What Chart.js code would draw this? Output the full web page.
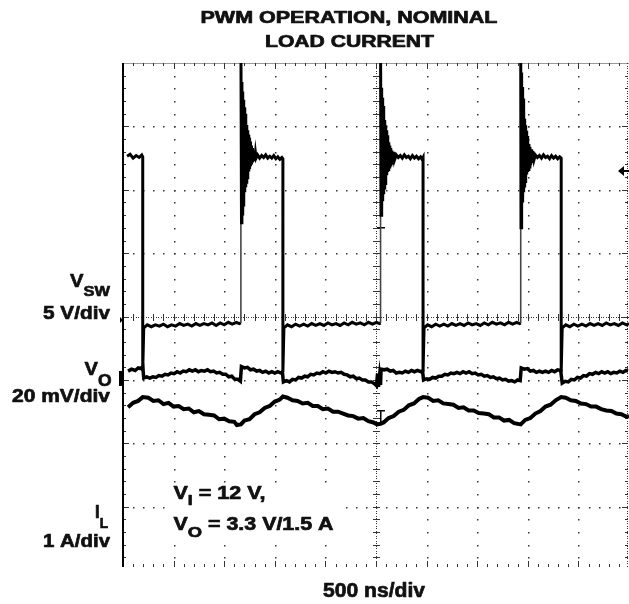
<!DOCTYPE html>
<html>
<head>
<meta charset="utf-8">
<script src="https://cdn.jsdelivr.net/npm/chart.js@4/dist/chart.umd.min.js"></script>
<style>
  html, body { margin: 0; padding: 0; background: #fff; }
  canvas { display: block; }
</style>
</head>
<body>
<canvas id="scope" width="629" height="604"></canvas>
<script>
// Scope screen: 10 x 8 divisions, time in div (500 ns/div), level in div from bottom

// V_SW switch node (5 V/div)
const vswTrace = [
  [0.08,6.53],[0.14,6.56],[0.20,6.50],[0.26,6.54],[0.32,6.51],[0.37,6.55],[0.39,6.52],
  [0.39,3.15],[0.41,3.82],[0.48,3.87],[0.56,3.84],[0.64,3.87],[0.72,3.85],[0.80,3.88],[0.88,3.84],[0.96,3.87],
  [1.04,3.85],[1.12,3.89],[1.20,3.86],[1.28,3.88],[1.36,3.85],[1.44,3.89],[1.52,3.86],[1.60,3.89],[1.68,3.87],
  [1.76,3.90],[1.84,3.86],[1.92,3.90],[2.00,3.87],[2.08,3.91],[2.16,3.88],[2.24,3.91],[2.30,3.89],[2.33,3.90],
  [2.33,8.40],
  [2.342,5.48],[2.350,7.70],[2.358,5.62],[2.366,7.55],[2.374,5.76],[2.382,7.42],[2.390,5.88],[2.398,7.30],
  [2.406,5.96],[2.414,7.20],[2.422,6.04],[2.430,7.10],[2.438,6.12],[2.446,7.02],[2.454,6.19],[2.462,6.94],
  [2.470,6.25],[2.478,6.87],[2.486,6.29],[2.494,6.82],[2.502,6.33],[2.510,6.76],[2.520,6.37],[2.530,6.70],
  [2.540,6.40],[2.550,6.66],[2.560,6.43],[2.570,6.62],[2.582,6.45],[2.594,6.60],[2.606,6.48],[2.618,6.58],[2.630,6.50],
  [2.66,6.55],[2.70,6.50],[2.74,6.54],[2.78,6.51],[2.82,6.55],[2.86,6.50],[2.90,6.53],[2.94,6.50],[2.98,6.54],
  [3.02,6.49],[3.06,6.52],[3.10,6.48],[3.14,6.51],[3.16,6.49],
  [3.16,3.13],[3.18,3.82],[3.25,3.87],[3.33,3.84],[3.41,3.88],[3.49,3.85],[3.57,3.88],[3.65,3.85],[3.73,3.89],
  [3.81,3.86],[3.89,3.89],[3.97,3.86],[4.05,3.90],[4.13,3.87],[4.21,3.89],[4.29,3.86],[4.37,3.90],[4.45,3.87],
  [4.53,3.91],[4.61,3.88],[4.69,3.90],[4.77,3.87],[4.85,3.91],[4.93,3.88],[5.01,3.91],[5.07,3.89],[5.09,3.90],
  [5.09,8.40],
  [5.100,5.60],[5.108,7.61],[5.116,5.70],[5.124,7.45],[5.132,5.82],[5.140,7.32],[5.148,5.93],[5.156,7.20],
  [5.164,6.03],[5.172,7.10],[5.180,6.10],[5.188,7.02],[5.196,6.17],[5.204,6.94],[5.212,6.23],[5.220,6.86],
  [5.228,6.28],[5.236,6.80],[5.244,6.32],[5.252,6.75],[5.262,6.36],[5.272,6.70],[5.282,6.39],[5.292,6.66],
  [5.302,6.42],[5.314,6.62],[5.326,6.44],[5.338,6.60],[5.350,6.47],[5.362,6.58],[5.374,6.49],
  [5.40,6.55],[5.44,6.51],[5.48,6.54],[5.52,6.50],[5.56,6.55],[5.60,6.51],[5.64,6.53],[5.68,6.49],[5.72,6.54],
  [5.76,6.50],[5.80,6.53],[5.84,6.49],[5.88,6.52],[5.91,6.48],[5.93,6.51],
  [5.93,3.13],[5.95,3.82],[6.02,3.87],[6.10,3.84],[6.18,3.88],[6.26,3.85],[6.34,3.88],[6.42,3.85],[6.50,3.89],
  [6.58,3.86],[6.66,3.89],[6.74,3.86],[6.82,3.90],[6.90,3.87],[6.98,3.89],[7.06,3.86],[7.14,3.90],[7.22,3.87],
  [7.30,3.91],[7.38,3.88],[7.46,3.90],[7.54,3.87],[7.62,3.91],[7.70,3.88],[7.78,3.91],[7.84,3.89],[7.86,3.90],
  [7.86,8.40],
  [7.866,5.40],[7.874,7.85],[7.882,5.62],[7.890,7.62],[7.898,5.80],[7.906,7.44],[7.914,5.96],[7.922,7.28],
  [7.930,6.06],[7.938,7.12],[7.946,6.13],[7.954,7.02],[7.962,6.19],[7.970,6.93],[7.978,6.24],[7.986,6.85],
  [7.994,6.28],[8.002,6.78],[8.012,6.32],[8.022,6.72],[8.032,6.36],[8.042,6.68],[8.054,6.39],[8.066,6.64],
  [8.078,6.42],[8.090,6.61],[8.102,6.45],[8.114,6.59],[8.126,6.48],
  [8.15,6.55],[8.19,6.51],[8.23,6.54],[8.27,6.50],[8.31,6.55],[8.35,6.51],[8.39,6.53],[8.43,6.49],[8.47,6.54],
  [8.51,6.50],[8.55,6.53],[8.59,6.49],[8.63,6.52],[8.66,6.50],
  [8.66,3.13],[8.68,3.82],[8.75,3.87],[8.83,3.84],[8.91,3.88],[8.99,3.85],[9.07,3.88],[9.15,3.85],[9.23,3.89],
  [9.31,3.86],[9.39,3.89],[9.47,3.86],[9.55,3.90],[9.63,3.87],[9.71,3.89],[9.79,3.86],[9.87,3.90],[9.95,3.87],[10.0,3.89]
];

// V_O output ripple (20 mV/div)
const voTrace = [
  [0.10,3.14],[0.17,3.17],[0.24,3.15],[0.30,3.19],[0.35,3.18],[0.39,3.21],
  [0.41,3.03],[0.47,3.05],[0.53,3.03],[0.59,3.05],[0.65,3.04],[0.71,3.07],[0.77,3.06],[0.83,3.09],[0.89,3.08],
  [0.95,3.11],[1.01,3.10],[1.07,3.13],[1.13,3.11],[1.19,3.14],[1.25,3.13],[1.31,3.16],[1.37,3.14],[1.43,3.16],
  [1.49,3.13],[1.55,3.15],[1.61,3.14],[1.67,3.16],[1.73,3.13],[1.79,3.14],[1.85,3.11],[1.91,3.12],[1.97,3.09],
  [2.03,3.09],[2.09,3.05],[2.15,3.06],[2.21,3.01],[2.27,3.01],[2.32,2.98],
  [2.34,3.21],[2.40,3.19],[2.46,3.20],[2.52,3.16],[2.58,3.17],[2.64,3.14],[2.70,3.15],[2.76,3.12],[2.82,3.14],
  [2.88,3.11],[2.94,3.13],[3.00,3.11],[3.06,3.13],[3.12,3.11],[3.15,3.13],
  [3.17,2.97],[3.23,2.99],[3.29,2.97],[3.35,3.01],[3.41,3.00],[3.47,3.04],[3.53,3.03],[3.59,3.06],[3.65,3.05],
  [3.71,3.09],[3.77,3.08],[3.83,3.11],[3.89,3.10],[3.95,3.13],[4.01,3.11],[4.07,3.14],[4.13,3.12],[4.19,3.13],
  [4.25,3.11],[4.31,3.12],[4.37,3.09],[4.43,3.08],[4.49,3.05],[4.55,3.06],[4.61,3.02],[4.67,3.03],[4.73,3.00],
  [4.79,3.00],[4.85,2.97],[4.91,2.97],[4.97,2.94],[5.01,2.91],[5.03,3.10],[5.05,2.89],[5.07,3.06],[5.09,2.92],
  [5.10,3.17],[5.16,3.16],[5.22,3.17],[5.28,3.14],[5.34,3.15],[5.40,3.11],[5.46,3.12],[5.52,3.11],[5.58,3.14],
  [5.64,3.12],[5.70,3.15],[5.76,3.13],[5.82,3.15],[5.88,3.13],[5.92,3.14],
  [5.94,3.00],[6.00,3.02],[6.06,3.01],[6.12,3.04],[6.18,3.03],[6.24,3.06],[6.30,3.06],[6.36,3.09],[6.42,3.08],
  [6.48,3.11],[6.54,3.10],[6.60,3.12],[6.66,3.10],[6.72,3.13],[6.78,3.11],[6.84,3.13],[6.90,3.10],[6.96,3.11],
  [7.02,3.08],[7.08,3.09],[7.14,3.06],[7.20,3.07],[7.26,3.04],[7.32,3.05],[7.38,3.02],[7.44,3.03],[7.50,3.00],
  [7.56,3.01],[7.62,2.98],[7.68,2.99],[7.74,2.97],[7.80,3.00],[7.85,2.99],
  [7.87,3.19],[7.93,3.17],[7.99,3.18],[8.05,3.14],[8.11,3.15],[8.17,3.12],[8.23,3.14],[8.29,3.12],[8.35,3.14],
  [8.41,3.12],[8.47,3.15],[8.53,3.13],[8.59,3.16],[8.65,3.15],
  [8.68,2.95],[8.74,2.98],[8.80,2.97],[8.86,3.01],[8.92,3.00],[8.98,3.04],[9.04,3.03],[9.10,3.07],[9.16,3.06],
  [9.22,3.10],[9.28,3.09],[9.34,3.12],[9.40,3.10],[9.46,3.13],[9.52,3.11],[9.58,3.13],[9.64,3.10],[9.70,3.12],
  [9.76,3.11],[9.82,3.14],[9.88,3.12],[9.94,3.15],[9.98,3.14]
];

// I_L inductor current (1 A/div)
const ilTrace = [
  [0.10,2.57],[0.20,2.64],[0.30,2.67],[0.39,2.73],
  [0.50,2.72],[0.60,2.67],[0.70,2.68],[0.80,2.62],[0.90,2.64],[1.00,2.58],[1.10,2.59],[1.20,2.54],[1.30,2.55],
  [1.40,2.49],[1.50,2.51],[1.60,2.46],[1.70,2.45],[1.80,2.44],[1.90,2.38],[2.00,2.39],[2.10,2.35],[2.20,2.34],
  [2.25,2.29],[2.33,2.30],
  [2.40,2.36],[2.50,2.38],[2.60,2.46],[2.70,2.49],[2.80,2.56],[2.90,2.59],[3.00,2.66],[3.10,2.69],[3.16,2.74],
  [3.25,2.72],[3.35,2.68],[3.45,2.67],[3.55,2.63],[3.65,2.64],[3.75,2.59],[3.85,2.59],[3.95,2.54],[4.05,2.55],
  [4.15,2.50],[4.25,2.50],[4.35,2.47],[4.45,2.44],[4.55,2.43],[4.65,2.39],[4.75,2.40],[4.85,2.35],[4.95,2.33],
  [5.02,2.30],[5.09,2.31],
  [5.15,2.33],[5.25,2.40],[5.35,2.43],[5.45,2.50],[5.55,2.53],[5.65,2.60],[5.75,2.63],[5.85,2.70],[5.93,2.73],
  [6.03,2.72],[6.13,2.67],[6.23,2.68],[6.33,2.63],[6.43,2.62],[6.53,2.61],[6.63,2.56],[6.73,2.57],[6.83,2.52],
  [6.93,2.52],[7.03,2.48],[7.13,2.47],[7.23,2.46],[7.33,2.41],[7.43,2.41],[7.53,2.36],[7.63,2.37],[7.73,2.32],
  [7.86,2.30],
  [7.95,2.37],[8.05,2.40],[8.15,2.47],[8.25,2.51],[8.35,2.58],[8.45,2.61],[8.55,2.68],[8.66,2.73],
  [8.75,2.72],[8.85,2.68],[8.95,2.67],[9.05,2.63],[9.15,2.62],[9.25,2.58],[9.35,2.58],[9.45,2.54],[9.55,2.52],
  [9.65,2.51],[9.75,2.47],[9.85,2.46],[9.95,2.42],[10.0,2.43]
];

const titleLines = ['PWM OPERATION, NOMINAL', 'LOAD CURRENT'];
const timeBase = '500 ns/div';

const FONT = '"Liberation Sans", Arial, Helvetica, sans-serif';

// draw a run of text pieces (main + subscripts), stretched to a given width
function drawRuns(ctx, runs, x, baseline, align, width) {
  let total = 0;
  runs.forEach(r => {
    ctx.font = 'bold ' + r.size + 'px ' + FONT;
    r.w = ctx.measureText(r.text).width;
    total += r.w;
  });
  const sx = width ? width / total : 1;
  let left = x;
  if (align === 'right') left = x - total * sx;
  if (align === 'center') left = x - total * sx / 2;
  ctx.save();
  ctx.translate(left, baseline);
  ctx.scale(sx, 1);
  ctx.fillStyle = '#111';
  ctx.strokeStyle = '#111';
  ctx.lineWidth = 0.7;
  ctx.lineJoin = 'round';
  ctx.textAlign = 'left';
  ctx.textBaseline = 'alphabetic';
  let cx = 0;
  runs.forEach(r => {
    ctx.font = 'bold ' + r.size + 'px ' + FONT;
    ctx.fillText(r.text, cx, r.dy || 0);
    ctx.strokeText(r.text, cx, r.dy || 0);
    cx += r.w;
  });
  ctx.restore();
}

// graticule, frame and channel markers
const scopeGrid = {
  id: 'scopeGrid',
  beforeDatasetsDraw(chart) {
    const { ctx, chartArea: a, scales: { x, y } } = chart;
    const X = v => Math.round(x.getPixelForValue(v));
    const Y = v => Math.round(y.getPixelForValue(v));
    ctx.save();
    ctx.fillStyle = '#333';

    // dotted major lines
    for (let i = 1; i < 10; i++) {
      if (i === 5) continue;
      for (let k = 1; k < 40; k++) ctx.fillRect(X(i), Y(k / 5), 1.5, 1.5);
    }
    for (let j = 1; j < 8; j++) {
      if (j === 4) continue;
      for (let k = 1; k < 50; k++) ctx.fillRect(X(k / 5), Y(j), 1.5, 1.5);
    }

    // centre cross with minor ticks
    const cxp = X(5), cyp = Y(4);
    for (let py = a.top; py < a.bottom; py += 2.5) ctx.fillRect(cxp, Math.round(py), 1, 1);
    for (let px = a.left; px < a.right; px += 2.5) ctx.fillRect(Math.round(px), cyp, 1, 1);
    for (let k = 1; k < 40; k++) ctx.fillRect(cxp - 3, Y(k / 5), 7, 1);
    for (let k = 1; k < 50; k++) ctx.fillRect(X(k / 5), cyp - 3, 1, 7);

    // frame
    ctx.fillStyle = '#999';
    ctx.fillRect(a.left, a.top, a.right - a.left, 1);
    ctx.fillStyle = '#333';
    for (let k = 1; k < 50; k++) {
      const len = k % 5 === 0 ? 6 : 3;
      ctx.fillRect(X(k / 5), a.top, 1, len);
      ctx.fillRect(X(k / 5), a.bottom - len, 1, len);
    }
    for (let k = 1; k < 40; k++) {
      const len = k % 5 === 0 ? 6 : 3;
      ctx.fillRect(a.left, Y(k / 5), len, 1);
      ctx.fillRect(a.right - 1 - len, Y(k / 5), len, 1);
    }
    for (let py = a.top; py < a.bottom; py += 2.5) ctx.fillRect(a.right - 2, Math.round(py), 1, 1);
    ctx.fillStyle = '#000';
    ctx.fillRect(a.left - 1, a.top, 2, a.bottom - a.top);

    // channel ground markers
    ctx.beginPath();
    ctx.moveTo(a.left - 3, Y(3.95) - 3);
    ctx.lineTo(a.left, Y(3.95));
    ctx.lineTo(a.left - 3, Y(3.95) + 3);
    ctx.fill();
    ctx.fillRect(a.left - 4, Y(3.14), 4, Y(2.90) - Y(3.14));

    // trigger level arrow on the right
    const ty = Y(6.3);
    ctx.beginPath();
    ctx.moveTo(a.right - 11, ty);
    ctx.lineTo(a.right - 5, ty - 5);
    ctx.lineTo(a.right - 5, ty + 5);
    ctx.fill();
    ctx.fillRect(a.right - 6, ty - 1, 6, 2);

    // trigger position marks
    ctx.fillRect(cxp + 1, Y(2.52), 8, 1.5);
    ctx.fillRect(cxp + 4, Y(2.52), 1.5, Y(2.34) - Y(2.52));
    ctx.fillRect(cxp + 1, Y(5.42), 8, 1.5);

    // white box behind the operating-point note
    ctx.fillStyle = '#fff';
    ctx.fillRect(168, 484, 176, 61);
    ctx.restore();
  },
  afterDraw(chart) {
    const ctx = chart.ctx;
    drawRuns(ctx, [{ text: titleLines[0], size: 16.5 }], 349, 23, 'center', 297);
    drawRuns(ctx, [{ text: titleLines[1], size: 16.5 }], 349.5, 47, 'center', 169);

    drawRuns(ctx, [{ text: 'V', size: 18.5 }, { text: 'SW', size: 15, dy: 8.7 }], 110, 287, 'right', 40);
    drawRuns(ctx, [{ text: '5 V/div', size: 18.5 }], 110, 318.5, 'right', 67);
    drawRuns(ctx, [{ text: 'V', size: 18.5 }, { text: 'O', size: 16, dy: 11 }], 111.5, 375, 'right', 27);
    drawRuns(ctx, [{ text: '20 mV/div', size: 18.5 }], 110, 401.5, 'right', 98);
    drawRuns(ctx, [{ text: 'I', size: 18.5 }, { text: 'L', size: 15, dy: 10 }], 108, 518, 'right', 13);
    drawRuns(ctx, [{ text: '1 A/div', size: 18.5 }], 110, 546.5, 'right', 67);

    drawRuns(ctx, [{ text: 'V', size: 17.5 }, { text: 'I', size: 14, dy: 6.7 }, { text: ' = 12 V,', size: 17.5 }], 173.5, 498.5, 'left', 92);
    drawRuns(ctx, [{ text: 'V', size: 17.5 }, { text: 'O', size: 15, dy: 7.4 }, { text: ' = 3.3 V/1.5 A', size: 17.5 }], 173.5, 529.5, 'left', 160);

    drawRuns(ctx, [{ text: timeBase, size: 20 }], 374, 596.5, 'center', 102);
  }
};

const toPoints = arr => arr.map(p => ({ x: p[0], y: p[1] }));

// rising edges of V_SW are drawn faint, like the fast scope trace
const edgeWidth = ctx => (ctx.p1.parsed.y - ctx.p0.parsed.y > 3 ? 1.6 : undefined);
const edgeColor = ctx => (ctx.p1.parsed.y - ctx.p0.parsed.y > 3 ? '#444' : undefined);

new Chart(document.getElementById('scope'), {
  type: 'scatter',
  data: {
    datasets: [
      { label: 'VSW', data: toPoints(vswTrace), showLine: true, borderColor: '#000', borderWidth: 3,
        pointRadius: 0, clip: 0, segment: { borderWidth: edgeWidth, borderColor: edgeColor } },
      { label: 'VO', data: toPoints(voTrace), showLine: true, borderColor: '#000', borderWidth: 3.5,
        pointRadius: 0, clip: 0 },
      { label: 'IL', data: toPoints(ilTrace), showLine: true, borderColor: '#000', borderWidth: 4,
        pointRadius: 0, clip: 0 }
    ]
  },
  options: {
    responsive: false,
    animation: false,
    events: [],
    layout: { padding: { left: 123, right: 0, top: 63, bottom: 37 } },
    plugins: { legend: { display: false }, tooltip: { enabled: false }, title: { display: false } },
    scales: {
      x: { type: 'linear', min: 0, max: 10, display: false },
      y: { type: 'linear', min: 0.05, max: 8, display: false }
    }
  },
  plugins: [scopeGrid]
});
</script>
</body>
</html>
